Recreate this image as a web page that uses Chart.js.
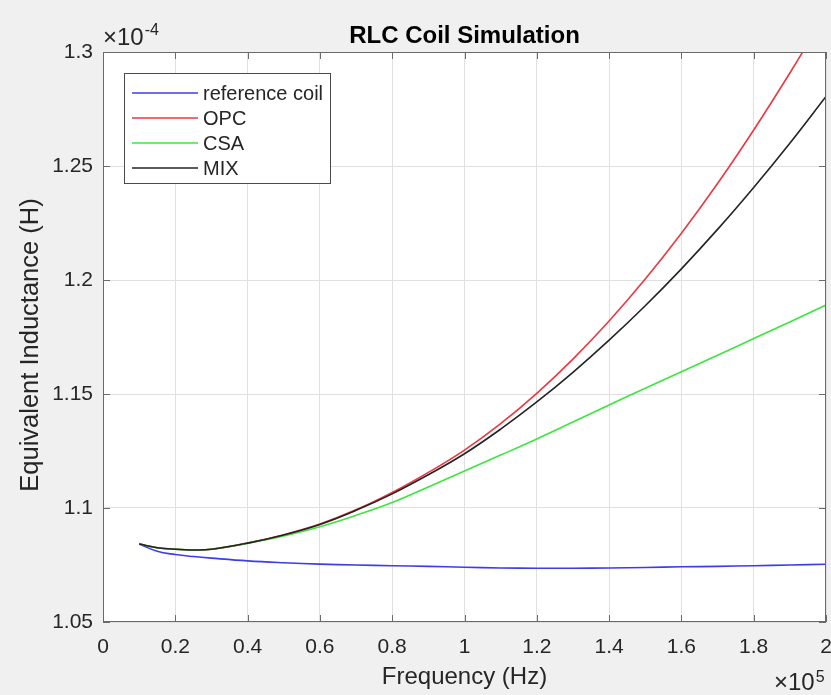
<!DOCTYPE html>
<html>
<head>
<meta charset="utf-8">
<title>RLC Coil Simulation</title>
<script src="https://cdn.jsdelivr.net/npm/chart.js"></script>
<style>
  html, body { margin: 0; padding: 0; background: #f0f0f0; }
  #wrap { width: 831px; height: 695px; }
</style>
</head>
<body>
<div id="wrap"><canvas id="canvas" width="831" height="695"></canvas></div>
<script>
// frequency in 1e5 Hz, inductance in 1e-4 H
const freq    = [0.1, 0.15, 0.2, 0.25, 0.3, 0.4, 0.5, 0.6, 0.7, 0.8, 0.9, 1.0, 1.1, 1.2, 1.3, 1.4, 1.5, 1.6, 1.7, 1.8, 1.9, 2.0];
const refCoil = [1.0842, 1.0810, 1.0796, 1.0787, 1.0780, 1.0768, 1.0760, 1.0754, 1.0750, 1.0747, 1.0744, 1.0740, 1.0737, 1.0736, 1.0736, 1.0737, 1.0739, 1.0742, 1.0744, 1.0747, 1.0750, 1.0753];
const opc     = [1.0842, 1.0826, 1.0819, 1.0816, 1.0819, 1.0846, 1.0883, 1.0930, 1.0992, 1.1068, 1.1156, 1.1254, 1.1370, 1.1503, 1.1653, 1.1820, 1.2004, 1.2205, 1.2423, 1.2658, 1.2908, 1.3170];
const csa     = [1.0842, 1.0826, 1.0819, 1.0816, 1.0819, 1.0845, 1.0877, 1.0918, 1.0968, 1.1024, 1.1092, 1.1162, 1.1232, 1.1303, 1.1377, 1.1452, 1.1525, 1.1598, 1.1670, 1.1743, 1.1816, 1.1890];
const mix     = [1.0842, 1.0826, 1.0819, 1.0816, 1.0819, 1.0846, 1.0882, 1.0928, 1.0990, 1.1062, 1.1146, 1.1238, 1.1346, 1.1465, 1.1595, 1.1736, 1.1887, 1.2049, 1.2222, 1.2406, 1.2600, 1.2805];

const seriesNames = ['reference coil', 'OPC', 'CSA', 'MIX'];

const xTicks = [0, 0.2, 0.4, 0.6, 0.8, 1, 1.2, 1.4, 1.6, 1.8, 2];
const xTickLabels = ['0', '0.2', '0.4', '0.6', '0.8', '1', '1.2', '1.4', '1.6', '1.8', '2'];
const yTicks = [1.05, 1.1, 1.15, 1.2, 1.25, 1.3];
const yTickLabels = ['1.05', '1.1', '1.15', '1.2', '1.25', '1.3'];

const FONT = "'Liberation Sans', Arial, Helvetica, sans-serif";
const TEXT = '#262626';
const AXIS = '#6a6a6a';
const GRID = '#e0e0e0';
const colors = ['rgb(60, 60, 235)', 'rgb(235, 55, 65)', 'rgb(60, 230, 60)', 'rgb(35, 35, 35)'];

const toPoints = (ys) => freq.map((f, i) => ({ x: f, y: ys[i] }));

// axes box, inward ticks, titles and legend in the MATLAB figure style
const figureDecor = {
  id: 'figureDecor',
  beforeDraw(chart) {
    const { ctx, chartArea: a } = chart;
    ctx.save();
    ctx.fillStyle = '#ffffff';
    ctx.fillRect(a.left, a.top, a.right - a.left, a.bottom - a.top);
    ctx.restore();
  },
  afterDraw(chart) {
    const { ctx, chartArea: a, scales } = chart;
    ctx.save();

    // box
    ctx.strokeStyle = AXIS;
    ctx.lineWidth = 1;
    ctx.strokeRect(Math.round(a.left) + 0.5, Math.round(a.top) + 0.5,
      Math.round(a.right - a.left) - 1, Math.round(a.bottom - a.top) - 1);

    // tick marks pointing inward
    const tl = 7;
    ctx.beginPath();
    xTicks.forEach(v => {
      const px = Math.round(scales.x.getPixelForValue(v)) + 0.5;
      ctx.moveTo(px, a.bottom); ctx.lineTo(px, a.bottom - tl);
      ctx.moveTo(px, a.top); ctx.lineTo(px, a.top + tl);
    });
    yTicks.forEach(v => {
      const py = Math.round(scales.y.getPixelForValue(v)) + 0.5;
      ctx.moveTo(a.left, py); ctx.lineTo(a.left + tl, py);
      ctx.moveTo(a.right, py); ctx.lineTo(a.right - tl, py);
    });
    ctx.stroke();

    // title
    ctx.fillStyle = '#000';
    ctx.font = `bold 24px ${FONT}`;
    ctx.textAlign = 'center';
    ctx.textBaseline = 'middle';
    ctx.fillText('RLC Coil Simulation', (a.left + a.right) / 2, 36);

    // axis labels
    ctx.fillStyle = TEXT;
    ctx.font = `24px ${FONT}`;
    ctx.fillText('Frequency (Hz)', (a.left + a.right) / 2, 677);
    ctx.save();
    ctx.translate(31, 345);
    ctx.rotate(-Math.PI / 2);
    ctx.font = `25.5px ${FONT}`;
    ctx.fillText('Equivalent Inductance (H)', 0, 0);
    ctx.restore();

    // exponent labels
    ctx.textAlign = 'left';
    ctx.textBaseline = 'alphabetic';
    ctx.font = `24px ${FONT}`;
    ctx.fillText('\u00d710', 103, 45);
    let w = ctx.measureText('\u00d710').width;
    ctx.font = `16px ${FONT}`;
    ctx.fillText('-4', 103 + w + 1, 35);

    ctx.font = `24px ${FONT}`;
    ctx.fillText('\u00d710', 774, 690);
    w = ctx.measureText('\u00d710').width;
    ctx.font = `16px ${FONT}`;
    ctx.fillText('5', 774 + w + 1, 682);

    // legend
    const lx = 124.5, ly = 73.5, lw = 206, lh = 110;
    ctx.fillStyle = '#ffffff';
    ctx.fillRect(lx, ly, lw, lh);
    ctx.strokeStyle = '#4a4a4a';
    ctx.strokeRect(lx, ly, lw, lh);
    ctx.font = `20px ${FONT}`;
    ctx.textBaseline = 'middle';
    seriesNames.forEach((name, i) => {
      const y = 93 + i * 25;
      ctx.strokeStyle = colors[i];
      ctx.lineWidth = 1.5;
      ctx.beginPath();
      ctx.moveTo(132, y); ctx.lineTo(198, y);
      ctx.stroke();
      ctx.fillStyle = TEXT;
      ctx.fillText(name, 203, y + 1);
    });

    ctx.restore();
  }
};

const ctx = document.getElementById('canvas').getContext('2d');
const chart = new Chart(ctx, {
  type: 'line',
  data: {
    datasets: [
      { label: seriesNames[0], data: toPoints(refCoil), borderColor: colors[0], order: 4 },
      { label: seriesNames[1], data: toPoints(opc), borderColor: colors[1], order: 3 },
      { label: seriesNames[2], data: toPoints(csa), borderColor: colors[2], order: 2 },
      { label: seriesNames[3], data: toPoints(mix), borderColor: colors[3], order: 1 }
    ]
  },
  options: {
    responsive: false,
    animation: false,
    layout: { padding: { top: 52, right: 5, left: 0, bottom: 0 } },
    elements: {
      point: { radius: 0 },
      line: { borderWidth: 1.6, tension: 0.4, fill: false }
    },
    plugins: {
      legend: { display: false },
      tooltip: { enabled: false }
    },
    scales: {
      x: {
        type: 'linear',
        min: 0,
        max: 2,
        afterBuildTicks: (s) => { s.ticks = xTicks.map(v => ({ value: v })); },
        afterFit: (s) => { s.height = 73; s.paddingLeft = 0; s.paddingRight = 0; },
        ticks: {
          callback: (v, i) => xTickLabels[i],
          font: { family: FONT, size: 21 },
          color: TEXT,
          padding: 13,
          maxRotation: 0,
          autoSkip: false
        },
        grid: { color: GRID, drawTicks: false },
        border: { display: false }
      },
      y: {
        type: 'linear',
        min: 1.05,
        max: 1.3,
        afterBuildTicks: (s) => { s.ticks = yTicks.map(v => ({ value: v })); },
        afterFit: (s) => { s.width = 103; s.paddingTop = 0; s.paddingBottom = 0; },
        ticks: {
          callback: (v, i) => yTickLabels[i],
          font: { family: FONT, size: 21 },
          color: TEXT,
          padding: 10,
          autoSkip: false
        },
        grid: { color: GRID, drawTicks: false },
        border: { display: false }
      }
    }
  },
  plugins: [figureDecor]
});
</script>
</body>
</html>
